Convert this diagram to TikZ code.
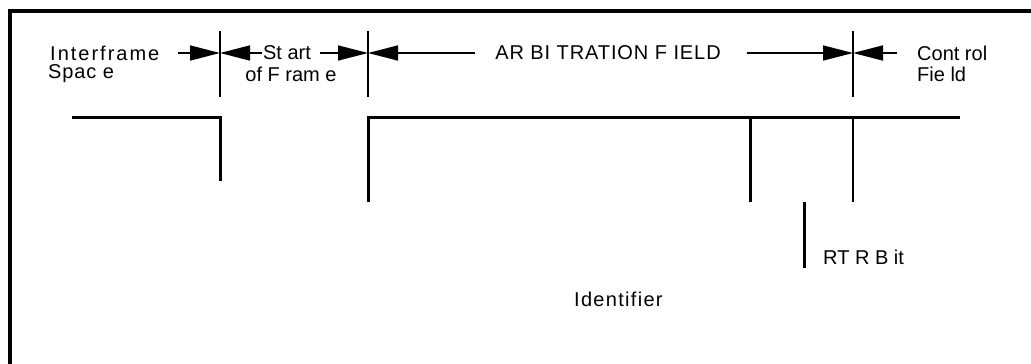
\documentclass[tikz,border=0pt]{standalone}
\usepackage{fontspec}
\setmainfont{Liberation Sans}
\newfontfamily\wideA[LetterSpace=10]{Liberation Sans}
\newfontfamily\wideB[LetterSpace=6.5]{Liberation Sans}
\newfontfamily\wideC[LetterSpace=4.5]{Liberation Sans}
\usetikzlibrary{arrows.meta}
\begin{document}
\begin{tikzpicture}[x=1pt,y=-1pt,
  lbl/.style={inner sep=0pt,font=\fontsize{20}{22}\selectfont},
  frameline/.style={line width=4pt},
  sig/.style={line width=3pt},
  tick/.style={line width=1.5pt},
  dimarrow/.style={line width=1.5pt,-{Triangle[length=30pt,width=15pt]}}]
\useasboundingbox (0,0) rectangle (1031,364);
% frame
\coordinate (fb) at (10,364);
\coordinate (fc) at (10,11);
\coordinate (fr) at (1031,11);
\draw[frameline] (fb) -- (fc) -- (fr);
% tick marks
\coordinate (t1a) at (220,31); \coordinate (t1b) at (220,97);
\coordinate (t2a) at (368,31); \coordinate (t2b) at (368,97);
\coordinate (t3a) at (853,31); \coordinate (t3b) at (853,97);
\draw[tick] (t1a) -- (t1b);
\draw[tick] (t2a) -- (t2b);
\draw[tick] (t3a) -- (t3b);
\coordinate (p1) at (220,53);
\coordinate (p2) at (368,53);
\coordinate (p3) at (853,53);
% labels
\node[lbl,anchor=west,font=\fontsize{20}{22}\wideA] (ifs1) at (50,53) {Interframe};
\node[lbl,anchor=west,font=\fontsize{20}{22}\wideC] (ifs2) at (48,74) {Spac e};
\node[lbl] (sof1) at (287,53) {St art};
\node[lbl] (sof2) at (291,74) {of F ram e};
\node[lbl,font=\fontsize{20}{22}\wideC] (arb) at (608,53) {AR BI TRATION F IELD};
\node[lbl,anchor=west] (ctl1) at (917,53) {Cont rol};
\node[lbl,anchor=west] (ctl2) at (917,74) {Fie ld};
\node[lbl,anchor=west] (rtr) at (823,257) {RT R B it};
\node[lbl,anchor=west,font=\fontsize{20}{22}\wideB] (idf) at (574,299) {Identifier};
% dimension arrows
\coordinate (a1) at (178,53);
\coordinate (a2) at (262,53);
\coordinate (a3) at (320,53);
\coordinate (a4) at (475,53);
\coordinate (a5) at (747,53);
\coordinate (a6) at (897,53);
\draw[dimarrow] (a1) -- (p1);
\draw[dimarrow] (a2) -- (p1);
\draw[dimarrow] (a3) -- (p2);
\draw[dimarrow] (a4) -- (p2);
\draw[dimarrow] (a5) -- (p3);
\draw[dimarrow] (a6) -- (p3);
% signal
\coordinate (s0) at (72,117);
\coordinate (s1) at (220,117);
\coordinate (s2) at (220,181);
\coordinate (s3) at (368,202);
\coordinate (s4) at (368,117);
\coordinate (s5) at (960,117);
\coordinate (s6) at (750,117); \coordinate (s7) at (750,202);
\coordinate (s8) at (853,117); \coordinate (s9) at (853,202);
\coordinate (r1) at (804,202); \coordinate (r2) at (804,268);
\draw[sig] (s0) -- (s1) -- (s2);
\draw[sig] (s3) -- (s4) -- (s5);
\draw[sig] (s6) -- (s7);
\draw[line width=2pt] (s8) -- (s9);
\draw[sig] (r1) -- (r2);
\end{tikzpicture}
\end{document}
